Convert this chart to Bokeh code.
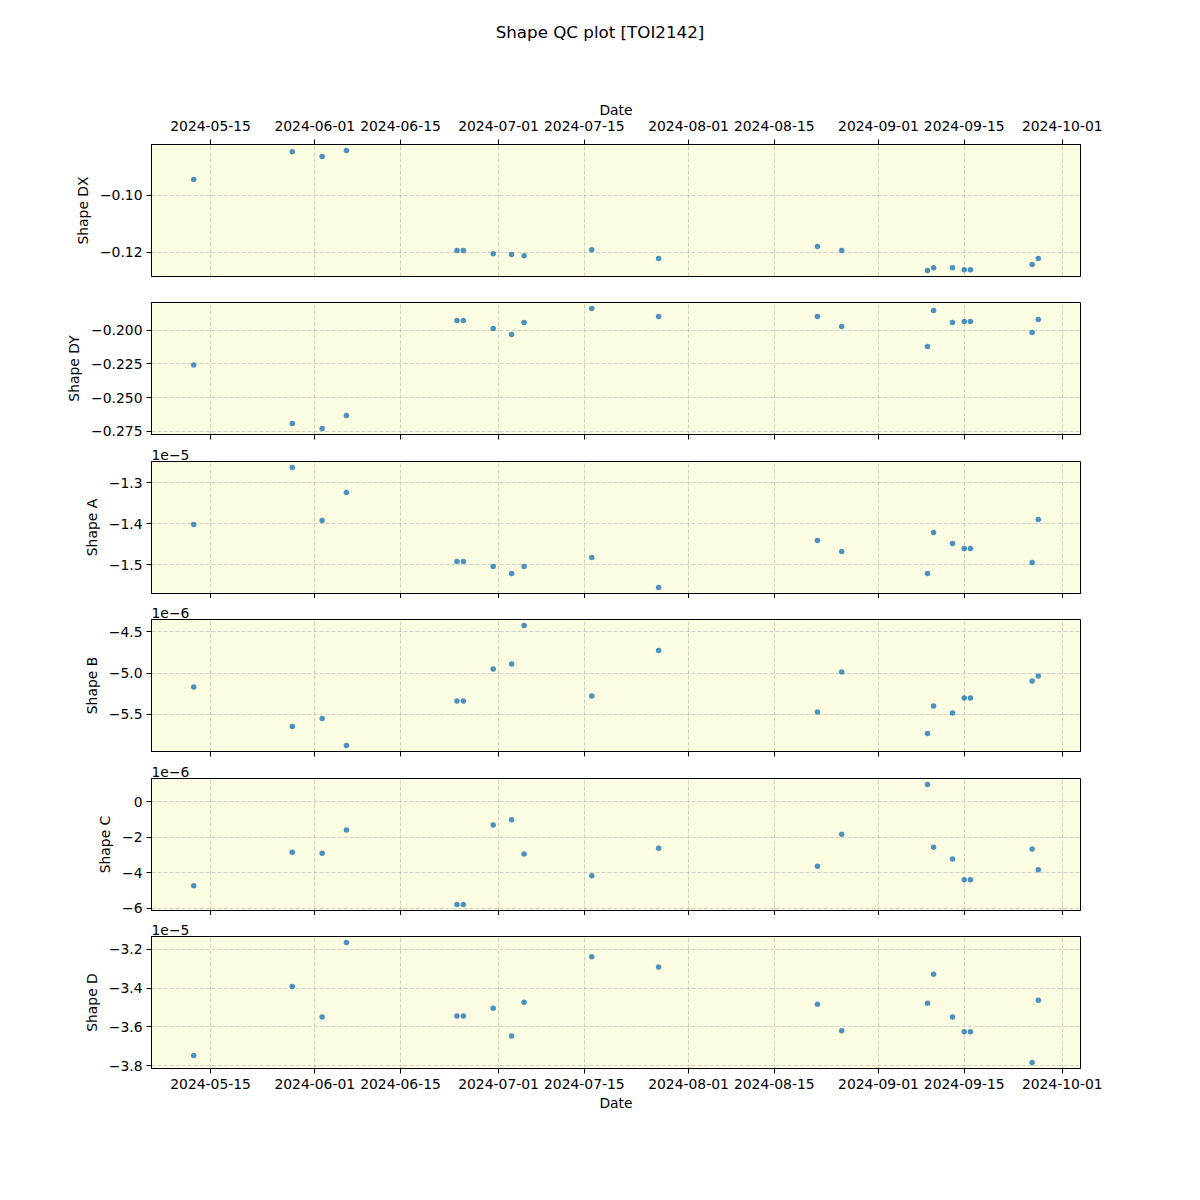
import pandas as pd
from bokeh.plotting import figure
from bokeh.models import (ColumnDataSource, Range1d, FixedTicker, DatetimeTickFormatter,
                          Title, Div)
from bokeh.layouts import column
from bokeh.embed import file_html
from bokeh.resources import INLINE

title_text = "Shape QC plot [TOI2142]"

dates = ["2024-05-12T06:00", "2024-05-28T08:00", "2024-06-02T05:00", "2024-06-06T04:00",
         "2024-06-24T05:00", "2024-06-25T06:00", "2024-06-30T03:00", "2024-07-03T03:00",
         "2024-07-05T04:00", "2024-07-16T05:00", "2024-07-27T03:00", "2024-08-22T01:00",
         "2024-08-26T00:00", "2024-09-09T00:00", "2024-09-10T00:00", "2024-09-13T02:00",
         "2024-09-15T00:00", "2024-09-16T00:00", "2024-09-26T02:00", "2024-09-27T02:00"]

shape_dx = [-0.0945, -0.0847, -0.0864, -0.0843, -0.1194, -0.1194, -0.1205, -0.1208, -0.1212, -0.1191,
            -0.1222, -0.1180, -0.1194, -0.1264, -0.1254, -0.1254, -0.1261, -0.1261, -0.1243, -0.1222]
shape_dy = [-0.2259, -0.2691, -0.2728, -0.2632, -0.1928, -0.1928, -0.1988, -0.2032, -0.1943, -0.1840,
            -0.1899, -0.1899, -0.1973, -0.2121, -0.1854, -0.1943, -0.1936, -0.1936, -0.2017, -0.1921]
shape_a = [-1.4024e-5, -1.2634e-5, -1.3927e-5, -1.3244e-5, -1.4927e-5, -1.4927e-5, -1.5049e-5,
           -1.5220e-5, -1.5049e-5, -1.4829e-5, -1.5561e-5, -1.4415e-5, -1.4683e-5, -1.5220e-5,
           -1.4220e-5, -1.4488e-5, -1.4610e-5, -1.4610e-5, -1.4951e-5, -1.3902e-5]
shape_b = [-5.1687e-6, -5.6446e-6, -5.5482e-6, -5.8735e-6, -5.3373e-6, -5.3373e-6, -4.9518e-6,
           -4.8916e-6, -4.4277e-6, -5.2771e-6, -4.7289e-6, -5.4699e-6, -4.9880e-6, -5.7289e-6,
           -5.3976e-6, -5.4819e-6, -5.3012e-6, -5.3012e-6, -5.0964e-6, -5.0361e-6]
shape_c = [-4.73e-6, -2.84e-6, -2.90e-6, -1.60e-6, -5.79e-6, -5.79e-6, -1.31e-6, -1.02e-6,
           -2.95e-6, -4.17e-6, -2.62e-6, -3.63e-6, -1.83e-6, 0.97e-6, -2.56e-6, -3.23e-6,
           -4.39e-6, -4.39e-6, -2.67e-6, -3.83e-6]
shape_d = [-3.747e-5, -3.391e-5, -3.549e-5, -3.165e-5, -3.544e-5, -3.544e-5, -3.503e-5,
           -3.646e-5, -3.473e-5, -3.239e-5, -3.291e-5, -3.483e-5, -3.620e-5, -3.478e-5,
           -3.328e-5, -3.549e-5, -3.625e-5, -3.625e-5, -3.783e-5, -3.463e-5]

date_ticks = ["2024-05-15", "2024-06-01", "2024-06-15", "2024-07-01", "2024-07-15",
              "2024-08-01", "2024-08-15", "2024-09-01", "2024-09-15", "2024-10-01"]

dx_ticks = [-0.12, -0.10]
dx_labels = ["\u22120.12", "\u22120.10"]
dy_ticks = [-0.275, -0.25, -0.225, -0.2]
dy_labels = ["\u22120.275", "\u22120.250", "\u22120.225", "\u22120.200"]
a_ticks = [-1.5e-5, -1.4e-5, -1.3e-5]
a_labels = ["\u22121.5", "\u22121.4", "\u22121.3"]
b_ticks = [-5.5e-6, -5.0e-6, -4.5e-6]
b_labels = ["\u22125.5", "\u22125.0", "\u22124.5"]
c_ticks = [-6e-6, -4e-6, -2e-6, 0.0]
c_labels = ["\u22126", "\u22124", "\u22122", "0"]
d_ticks = [-3.8e-5, -3.6e-5, -3.4e-5, -3.2e-5]
d_labels = ["\u22123.8", "\u22123.6", "\u22123.4", "\u22123.2"]

panels = [
    ("Shape DX", shape_dx, dx_ticks, dx_labels, None),
    ("Shape DY", shape_dy, dy_ticks, dy_labels, None),
    ("Shape A", shape_a, a_ticks, a_labels, "1e\u22125"),
    ("Shape B", shape_b, b_ticks, b_labels, "1e\u22126"),
    ("Shape C", shape_c, c_ticks, c_labels, "1e\u22126"),
    ("Shape D", shape_d, d_ticks, d_labels, "1e\u22125"),
]

FONT = "DejaVu Sans"
FS = "13.9px"
BG = "#fcfce3"
DOT = "#1f77b4"


def to_ms(values):
    return list((pd.to_datetime(values) - pd.Timestamp(0)) / pd.Timedelta(milliseconds=1))


def padded(vals):
    lo, hi = min(vals), max(vals)
    m = 0.05 * (hi - lo)
    return lo - m, hi + m


t_ms = to_ms(dates)
tick_ms = to_ms(date_ticks)
x_lo, x_hi = padded(t_ms)
x_range = Range1d(x_lo, x_hi)

fmt = "%Y-%m-%d"
date_fmt = DatetimeTickFormatter(microseconds=fmt, milliseconds=fmt, seconds=fmt, minsec=fmt,
                                 minutes=fmt, hourmin=fmt, hours=fmt, days=fmt, months=fmt, years=fmt)

borders = [(80, 6), (20, 6), (21, 5), (21, 6), (21, 5), (21, 60)]

figs = []
for i, (ylabel, vals, yt, yl, offset) in enumerate(panels):
    top, bottom = borders[i]
    y_lo, y_hi = padded(vals)
    p = figure(frame_width=929, frame_height=132, x_axis_type="datetime", x_range=x_range,
               y_range=Range1d(y_lo, y_hi), x_axis_location="above" if i == 0 else "below",
               output_backend="svg", toolbar_location=None, tools="",
               min_border_left=151, min_border_right=40, min_border_top=top, min_border_bottom=bottom)
    p.background_fill_color = BG
    p.border_fill_color = "white"
    p.outline_line_color = "black"
    p.outline_line_width = 1
    src = ColumnDataSource(dict(x=t_ms, y=vals))
    p.scatter("x", "y", source=src, size=5.5, fill_color=DOT, fill_alpha=0.8, line_color=None)

    p.xaxis.ticker = FixedTicker(ticks=tick_ms)
    p.xaxis.formatter = date_fmt
    p.yaxis.ticker = FixedTicker(ticks=yt)
    p.yaxis.major_label_overrides = dict(zip(yt, yl))
    p.yaxis.axis_label = ylabel

    for ax in p.axis:
        ax.axis_line_color = "black"
        ax.major_tick_line_color = "black"
        ax.major_tick_out = 5
        ax.major_tick_in = 0
        ax.minor_tick_line_color = None
        ax.major_label_text_font = FONT
        ax.major_label_text_font_size = FS
        ax.major_label_text_color = "black"
        ax.axis_label_text_font = FONT
        ax.axis_label_text_font_size = FS
        ax.axis_label_text_font_style = "normal"
        ax.axis_label_text_color = "black"
        ax.major_label_standoff = 4
        ax.axis_label_standoff = 6

    if i == 0:
        p.xaxis.axis_label = "Date"
        p.xaxis.major_label_standoff = 9
        p.xaxis.axis_label_standoff = 0
    elif i == len(panels) - 1:
        p.xaxis.axis_label = "Date"
        p.xaxis.major_label_standoff = 5
        p.xaxis.axis_label_standoff = 3
    else:
        p.xaxis.major_label_text_color = None

    p.grid.grid_line_color = "#b0b0b0"
    p.grid.grid_line_alpha = 0.6
    p.grid.grid_line_dash = "4 2"
    p.grid.grid_line_width = 1

    if offset:
        p.add_layout(Title(text=offset, align="left", text_font=FONT, text_font_size=FS,
                           text_font_style="normal", text_color="black", standoff=4), "above")
    figs.append(p)

title = Div(text=title_text, width=1200, height=64, margin=0,
            styles={"font-family": FONT, "font-size": "16.7px", "text-align": "center",
                    "padding-top": "21px", "color": "black"})

layout = column(title, *figs, spacing=0)

open("out.html", "w").write(file_html(layout, INLINE))
